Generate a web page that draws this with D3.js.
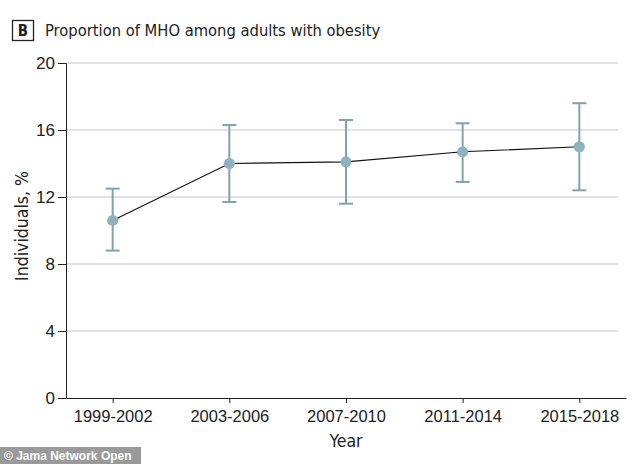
<!DOCTYPE html>
<html>
<head>
<meta charset="utf-8">
<script src="https://cdn.jsdelivr.net/npm/d3@7"></script>
<style>
  body { margin: 0; background: #fff; }
  svg { display: block; font-family: "Liberation Sans Narrow", "DejaVu Sans Condensed", sans-serif; }
</style>
</head>
<body>
<svg id="chart" width="634" height="464"></svg>
<script>
const periods = ["1999-2002", "2003-2006", "2007-2010", "2011-2014", "2015-2018"];
const estimate = [10.6, 14.0, 14.1, 14.7, 15.0];
const lower = [8.8, 11.7, 11.6, 12.9, 12.4];
const upper = [12.5, 16.3, 16.6, 16.4, 17.6];
const yTicks = [0, 4, 8, 12, 16, 20];

const svg = d3.select("#chart");
const margin = { left: 66, right: 8, top: 63, bottom: 66 };
const width = 634, height = 464;

const x = d3.scalePoint().domain(periods).range([margin.left, width - margin.right]).padding(0.4);
const y = d3.scaleLinear().domain([0, 20]).range([height - margin.bottom, margin.top]);

const data = periods.map((p, i) => ({ p, v: estimate[i], lo: lower[i], hi: upper[i] }));

// gridlines
svg.append("g")
  .selectAll("line")
  .data(yTicks.filter(d => d > 0))
  .join("line")
  .attr("x1", margin.left).attr("x2", width - margin.right - 8)
  .attr("y1", d => y(d)).attr("y2", d => y(d))
  .attr("stroke", "#d9d9d9").attr("stroke-width", 1.5);

// axes
const yAxis = svg.append("g")
  .attr("transform", `translate(${margin.left},0)`)
  .call(d3.axisLeft(y).tickValues(yTicks).tickSize(8).tickPadding(3));
yAxis.select(".domain").attr("stroke", "#222");
yAxis.selectAll(".tick line").attr("stroke", "#222");
yAxis.selectAll("text").attr("font-size", 17).attr("fill", "#222");

const xAxis = svg.append("g")
  .attr("transform", `translate(0,${y(0)})`)
  .call(d3.axisBottom(x).tickSize(5).tickSizeOuter(0).tickPadding(7));
xAxis.select(".domain").attr("stroke", "#222");
xAxis.selectAll(".tick line").attr("stroke", "#222");
xAxis.selectAll("text").attr("font-size", 16.5).attr("fill", "#222");

// axis titles
svg.append("text")
  .attr("x", 346).attr("y", 447)
  .attr("text-anchor", "middle")
  .attr("font-size", 17.5).attr("fill", "#222")
  .text("Year");

svg.append("text")
  .attr("transform", "translate(28,226) rotate(-90)")
  .attr("text-anchor", "middle")
  .attr("font-size", 17.5).attr("fill", "#222")
  .text("Individuals, %");

// error bars
const errColor = "#7fa3b2";
const eb = svg.append("g").selectAll("g").data(data).join("g");
eb.append("line")
  .attr("x1", d => x(d.p)).attr("x2", d => x(d.p))
  .attr("y1", d => y(d.lo)).attr("y2", d => y(d.hi))
  .attr("stroke", errColor).attr("stroke-width", 2);
eb.append("line")
  .attr("x1", d => x(d.p) - 7).attr("x2", d => x(d.p) + 7)
  .attr("y1", d => y(d.hi)).attr("y2", d => y(d.hi))
  .attr("stroke", errColor).attr("stroke-width", 2);
eb.append("line")
  .attr("x1", d => x(d.p) - 7).attr("x2", d => x(d.p) + 7)
  .attr("y1", d => y(d.lo)).attr("y2", d => y(d.lo))
  .attr("stroke", errColor).attr("stroke-width", 2);

// connecting line
svg.append("path")
  .datum(data)
  .attr("fill", "none")
  .attr("stroke", "#111")
  .attr("stroke-width", 1.2)
  .attr("d", d3.line().x(d => x(d.p)).y(d => y(d.v)));

// points
svg.append("g").selectAll("circle").data(data).join("circle")
  .attr("cx", d => x(d.p)).attr("cy", d => y(d.v))
  .attr("r", 5.5)
  .attr("fill", "#8fb2c1");

// panel label
svg.append("rect")
  .attr("x", 12.5).attr("y", 20.5).attr("width", 21).attr("height", 20)
  .attr("fill", "#fff").attr("stroke", "#222").attr("stroke-width", 1.3);
svg.append("text")
  .attr("x", 23).attr("y", 36)
  .attr("text-anchor", "middle")
  .attr("font-size", 15).attr("font-weight", "bold").attr("fill", "#222")
  .text("B");
svg.append("text")
  .attr("x", 45).attr("y", 36)
  .attr("font-size", 16.4).attr("fill", "#222")
  .text("Proportion of MHO among adults with obesity");

// watermark
svg.append("rect")
  .attr("x", 0).attr("y", 447).attr("width", 141).attr("height", 17)
  .attr("fill", "#9a9a9a");
svg.append("text")
  .attr("x", 4).attr("y", 460)
  .attr("font-family", "Liberation Sans, Arial, sans-serif")
  .attr("font-size", 12).attr("font-weight", "bold").attr("fill", "#fff")
  .text("© Jama Network Open");
</script>
</body>
</html>
